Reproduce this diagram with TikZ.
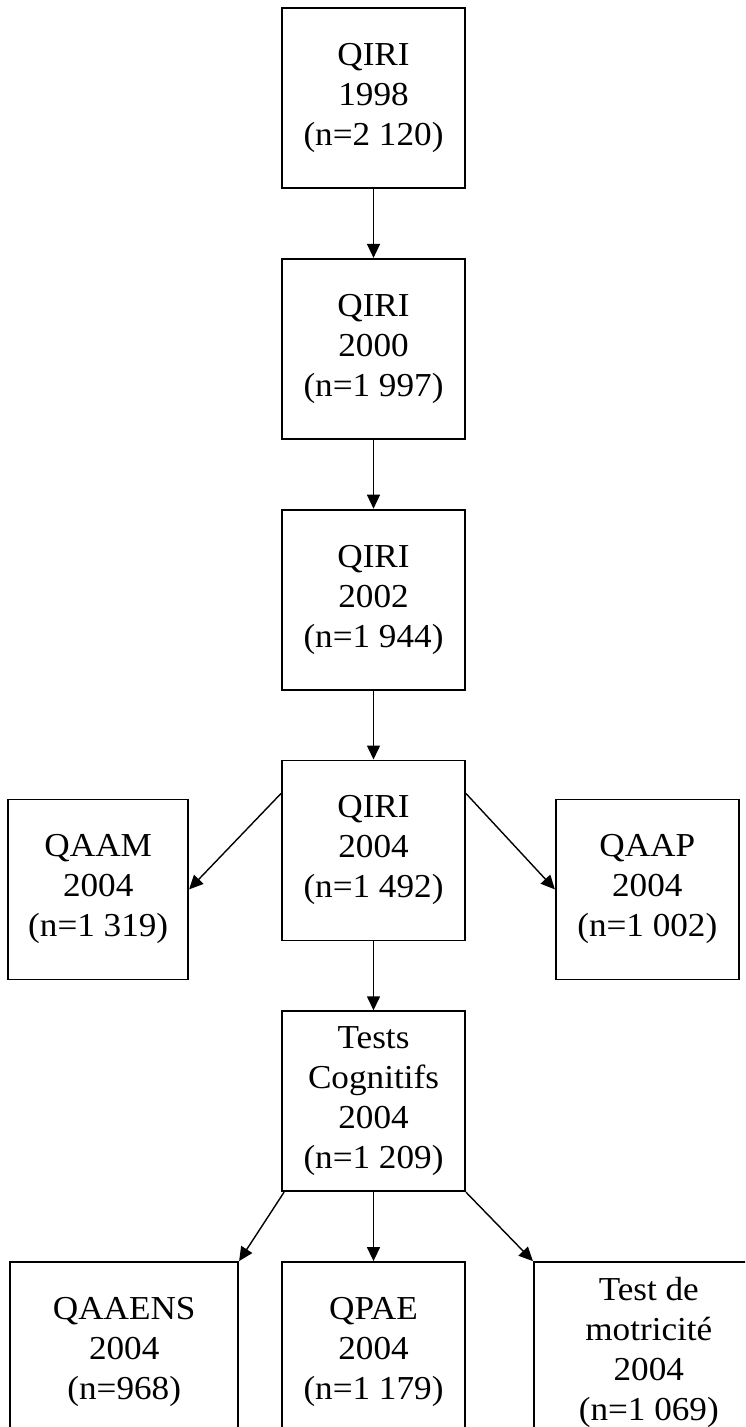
\documentclass[tikz,border=0pt]{standalone}
\usepackage{fontspec}
\setmainfont[FakeStretch=1.05]{Liberation Serif}
\usetikzlibrary{arrows.meta,positioning}

\begin{document}
\begin{tikzpicture}[x=1pt, y=-1pt,
  node distance=69pt,
  box/.style={draw, line width=1.8pt, minimum width=183pt, minimum height=180pt,
              inner sep=0pt, align=center, font=\fontsize{33.5}{40}\selectfont,
              execute at begin node={\rule{0pt}{29pt}}},
  arr/.style={-{Triangle[length=14pt,width=13pt]}, line width=1.4pt}
]
\clip (0,0) rectangle (745,1427);
\node[box] (q98) at (373.5,98) {QIRI\\1998\\(n=2 120)};
\node[box, below=of q98] (q00) {QIRI\\2000\\(n=1 997)};
\node[box, below=of q00] (q02) {QIRI\\2002\\(n=1 944)};
\node[box, below=of q02] (q04) {QIRI\\2004\\(n=1 492)};
\node[box, left=92pt of q04, yshift=-39pt, minimum width=180pt] (qaam) {QAAM\\2004\\(n=1 319)};
\node[box, right=89pt of q04, yshift=-39pt] (qaap) {QAAP\\2004\\(n=1 002)};
\node[box, below=of q04] (tc) {Tests\\Cognitifs\\2004\\(n=1 209)};
\node[box, below=of tc] (qpae) {QPAE\\2004\\(n=1 179)};
\node[box, left=42pt of qpae, minimum width=228pt] (qaaens) {QAAENS\\2004\\(n=968)};
\node[box, right=67pt of qpae, minimum width=230pt] (motr) {Test de\\motricité\\2004\\(n=1 069)};

\draw[arr] (q98) -- (q00);
\draw[arr] (q00) -- (q02);
\draw[arr] (q02) -- (q04);
\draw[arr] ([yshift=57pt]q04.west) -- (qaam.east);
\draw[arr] ([yshift=57pt]q04.east) -- (qaap.west);
\draw[arr] (q04) -- (tc);
\draw[arr] ([xshift=3pt]tc.south west) -- (qaaens.north east);
\draw[arr] (tc) -- (qpae);
\draw[arr] (tc.south east) -- (motr.north west);
\end{tikzpicture}
\end{document}
